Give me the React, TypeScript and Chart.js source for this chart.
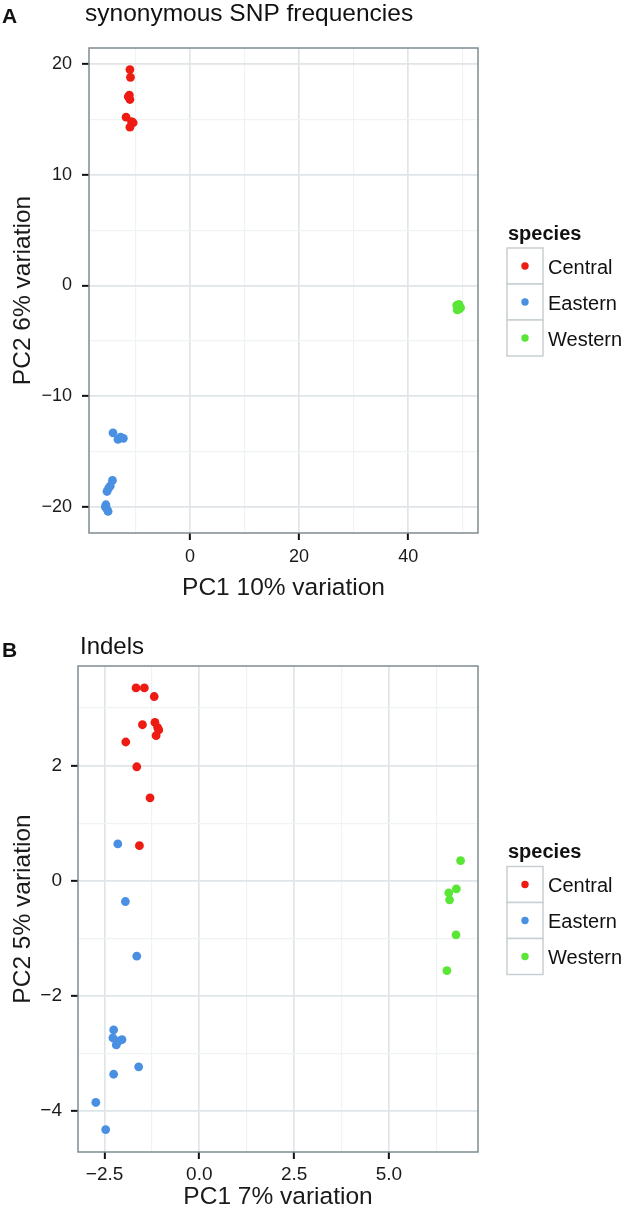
import React, { useEffect, useRef } from 'react';
import { Chart, registerables } from 'chart.js';

Chart.register(...registerables);

const FONT = '"Liberation Sans", Arial, Helvetica, sans-serif';
const SPECIES = ['Central', 'Eastern', 'Western'];
const COLORS = ['#EE1B12', '#4A90E2', '#5AE637'];

// ---- Panel A: synonymous SNP frequencies ----
const aCentralX = [-11.0, -10.9, -11.1, -11.3, -11.0, -11.7, -10.7, -10.4, -11.0];
const aCentralY = [19.5, 18.8, 17.2, 17.05, 16.8, 15.2, 14.8, 14.7, 14.3];
const aEasternX = [-14.1, -13.2, -12.2, -12.7, -14.2, -14.6, -15.2, -14.9, -15.4, -15.3, -15.0, -15.5];
const aEasternY = [-13.3, -13.9, -13.8, -13.7, -17.6, -18.1, -18.6, -18.3, -19.8, -20.1, -20.4, -20.0];
const aWesternX = [48.9, 49.3, 49.6, 49.0, 49.4];
const aWesternY = [-1.8, -1.7, -2.0, -2.2, -2.1];
const aXMajor = [0, 20, 40];
const aXLabels = ['0', '20', '40'];
const aXMinor = [-10, 10, 30, 50];
const aYMajor = [-20, -10, 0, 10, 20];
const aYLabels = ['\u221220', '\u221210', '0', '10', '20'];
const aYMinor = [-15, -5, 5, 15];

// ---- Panel B: Indels ----
const bCentralX = [-1.67, -1.45, -1.19, -1.5, -1.17, -1.07, -1.14, -1.1, -1.94, -1.65, -1.3, -1.58];
const bCentralY = [3.35, 3.35, 3.2, 2.71, 2.75, 2.62, 2.52, 2.66, 2.41, 1.98, 1.44, 0.61];
const bEasternX = [-2.15, -1.95, -1.65, -2.26, -2.28, -2.19, -2.04, -2.12, -1.6, -2.26, -2.73, -2.47];
const bEasternY = [0.64, -0.36, -1.31, -2.59, -2.73, -2.85, -2.76, -2.78, -3.23, -3.36, -3.85, -4.32];
const bWesternX = [6.89, 6.78, 6.58, 6.6, 6.77, 6.53];
const bWesternY = [0.35, -0.14, -0.21, -0.33, -0.94, -1.56];
const bXMajor = [-2.5, 0, 2.5, 5];
const bXLabels = ['\u22122.5', '0.0', '2.5', '5.0'];
const bXMinor = [-1.25, 1.25, 3.75, 6.25];
const bYMajor = [-4, -2, 0, 2];
const bYLabels = ['\u22124', '\u22122', '0', '2'];
const bYMinor = [-3, -1, 1, 3];

type Spec = {
  letter: string;
  title: string;
  xTitle: string;
  yTitle: string;
  top: number;
  width: number;
  height: number;
  plot: { left: number; top: number; right: number; bottom: number };
  xMin: number; xMax: number; yMin: number; yMax: number;
  xMajor: number[]; xLabels: string[]; xMinor: number[];
  yMajor: number[]; yLabels: string[]; yMinor: number[];
  xs: number[][]; ys: number[][];
  letterBase: number; titleBase: number; titleX: number; titleSize: number;
  tickSize: number;
  xTitlePad: number; xTickPad: number; yTickPad: number;
};

const SPEC_A: Spec = {
  letter: 'A', title: 'synonymous SNP frequencies',
  xTitle: 'PC1 10% variation', yTitle: 'PC2 6% variation',
  top: 0, width: 633, height: 600,
  plot: { left: 89, top: 48, right: 478, bottom: 533 },
  xMin: -18.5, xMax: 52.8, yMin: -22.35, yMax: 21.45,
  xMajor: aXMajor, xLabels: aXLabels, xMinor: aXMinor,
  yMajor: aYMajor, yLabels: aYLabels, yMinor: aYMinor,
  xs: [aCentralX, aEasternX, aWesternX], ys: [aCentralY, aEasternY, aWesternY],
  letterBase: 23, titleBase: 21, titleX: 85, titleSize: 24.5,
  tickSize: 18,
  xTitlePad: 0, xTickPad: 6, yTickPad: 10,
};

const SPEC_B: Spec = {
  letter: 'B', title: 'Indels',
  xTitle: 'PC1 7% variation', yTitle: 'PC2 5% variation',
  top: 600, width: 633, height: 621,
  plot: { left: 78, top: 66, right: 478, bottom: 552 },
  xMin: -3.2, xMax: 7.35, yMin: -4.71, yMax: 3.73,
  xMajor: bXMajor, xLabels: bXLabels, xMinor: bXMinor,
  yMajor: bYMajor, yLabels: bYLabels, yMinor: bYMinor,
  xs: [bCentralX, bEasternX, bWesternX], ys: [bCentralY, bEasternY, bWesternY],
  letterBase: 57, titleBase: 54, titleX: 80, titleSize: 24,
  tickSize: 19,
  xTitlePad: 11.75, xTickPad: 4.6, yTickPad: 9,
};

const isIn = (arr: number[], v: number) => arr.some((a) => Math.abs(a - v) < 1e-9);

function makeScale(
  major: number[], labels: string[], minor: number[], min: number, max: number,
  title: string, isX: boolean, size: number, tickPad: number, titlePad: number, tickSize: number
) {
  return {
    type: 'linear',
    min, max,
    bounds: 'data',
    afterBuildTicks: (s: any) => {
      s.ticks = [...major, ...minor].sort((p, q) => p - q).map((v) => ({ value: v }));
    },
    afterFit: (s: any) => {
      if (isX) s.height = size; else s.width = size;
    },
    ticks: {
      autoSkip: false,
      maxRotation: 0,
      minRotation: 0,
      padding: tickPad,
      color: '#1a1a1a',
      font: { family: FONT, size: tickSize },
      callback: (v: any) => {
        const i = major.findIndex((m) => Math.abs(m - v) < 1e-9);
        return i >= 0 ? labels[i] : '';
      },
    },
    grid: {
      drawTicks: true,
      tickLength: 7,
      tickWidth: 2,
      tickColor: (ctx: any) => (ctx.tick && isIn(major, ctx.tick.value) ? '#111111' : 'rgba(0,0,0,0)'),
      color: (ctx: any) => (ctx.tick && isIn(major, ctx.tick.value) ? '#E0E5E8' : '#F0F3F4'),
      lineWidth: (ctx: any) => (ctx.tick && isIn(major, ctx.tick.value) ? 1.7 : 1.2),
    },
    border: { display: false },
    title: {
      display: true,
      text: title,
      color: '#1a1a1a',
      font: { family: FONT, size: 24.5, lineHeight: 1 },
      padding: isX ? { top: 0, bottom: titlePad } : { top: titlePad, bottom: 0 },
    },
  };
}

function Panel({ spec }: { spec: Spec }) {
  const ref = useRef<HTMLCanvasElement | null>(null);

  useEffect(() => {
    if (!ref.current) return;
    const s = spec;
    const decor = {
      id: 'decor',
      beforeDatasetsDraw(chart: any) {
        const { ctx, chartArea: ca } = chart;
        ctx.save();
        ctx.strokeStyle = '#7F8C91';
        ctx.lineWidth = 1.5;
        ctx.strokeRect(ca.left, ca.top, ca.right - ca.left, ca.bottom - ca.top);
        ctx.restore();
      },
      afterDraw(chart: any) {
        const { ctx, chartArea: ca } = chart;
        ctx.save();
        ctx.fillStyle = '#111111';
        ctx.textBaseline = 'alphabetic';
        ctx.textAlign = 'left';
        ctx.font = `bold 21px ${FONT}`;
        ctx.fillText(s.letter, 2, s.letterBase);
        ctx.font = `${s.titleSize}px ${FONT}`;
        ctx.fillText(s.title, s.titleX, s.titleBase);

        // legend
        const cy = (ca.top + ca.bottom) / 2;
        const lx = 507;
        ctx.font = `bold 20px ${FONT}`;
        ctx.fillText('species', lx + 1, cy - 51);
        const boxTop = cy - 42.5;
        const bs = 36;
        for (let i = 0; i < SPECIES.length; i++) {
          const y0 = boxTop + i * bs;
          ctx.fillStyle = '#FFFFFF';
          ctx.fillRect(lx, y0, bs, bs);
          ctx.strokeStyle = '#C8CFD2';
          ctx.lineWidth = 1.5;
          ctx.strokeRect(lx, y0, bs, bs);
          ctx.beginPath();
          ctx.fillStyle = COLORS[i];
          ctx.arc(lx + bs / 2, y0 + bs / 2, 3.7, 0, Math.PI * 2);
          ctx.fill();
          ctx.fillStyle = '#111111';
          ctx.font = `20px ${FONT}`;
          ctx.fillText(SPECIES[i], lx + 41, y0 + bs / 2 + 7.5);
        }
        ctx.restore();
      },
    };

    const datasets = SPECIES.map((name, i) => ({
      label: name,
      data: s.xs[i].map((x, j) => ({ x, y: s.ys[i][j] })),
      backgroundColor: COLORS[i],
      borderColor: COLORS[i],
      borderWidth: 0,
      pointRadius: 4.4,
      pointHoverRadius: 4.4,
      showLine: false,
    }));

    const chart = new Chart(ref.current, {
      type: 'scatter',
      data: { datasets },
      options: {
        responsive: false,
        animation: false,
        devicePixelRatio: 1,
        layout: {
          padding: {
            left: 0,
            top: s.plot.top,
            right: s.width - s.plot.right,
            bottom: 0,
          },
        },
        plugins: {
          legend: { display: false },
          tooltip: { enabled: false },
          title: { display: false },
        },
        scales: {
          x: makeScale(s.xMajor, s.xLabels, s.xMinor, s.xMin, s.xMax, s.xTitle, true,
            s.height - s.plot.bottom, s.xTickPad, s.xTitlePad, s.tickSize) as any,
          y: makeScale(s.yMajor, s.yLabels, s.yMinor, s.yMin, s.yMax, s.yTitle, false,
            s.plot.left, s.yTickPad, 10.75, s.tickSize) as any,
        },
      },
      plugins: [decor],
    });
    return () => chart.destroy();
  }, [spec]);

  return (
    <div style={{ position: 'absolute', left: 0, top: spec.top, width: spec.width, height: spec.height }}>
      <canvas ref={ref} width={spec.width} height={spec.height} style={{ display: 'block' }} />
    </div>
  );
}

export default function App() {
  return (
    <div style={{ position: 'absolute', left: 0, top: 0, width: 633, height: 1221, background: '#ffffff' }}>
      <Panel spec={SPEC_A} />
      <Panel spec={SPEC_B} />
    </div>
  );
}
